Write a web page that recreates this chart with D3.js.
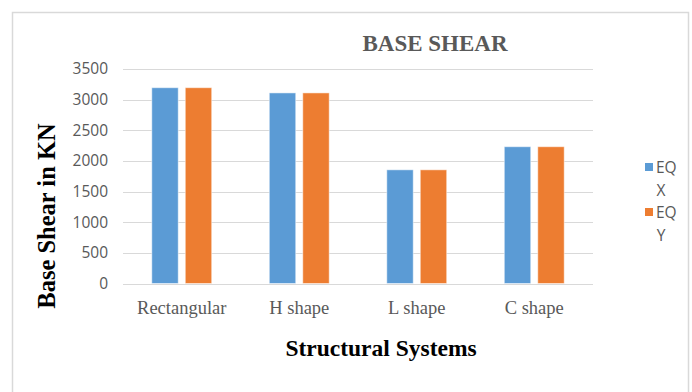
<!DOCTYPE html>
<html>
<head>
<meta charset="utf-8">
<script src="https://cdn.jsdelivr.net/npm/d3@7"></script>
<style>
  body { margin: 0; background: #fff; }
</style>
</head>
<body>
<div id="container"></div>
<script>
/* DATA */
const categories = ["Rectangular", "H shape", "L shape", "C shape"]
const series = ["EQ X", "EQ Y"]
const eqX = [3195, 3110, 1855, 2232]
const eqY = [3195, 3110, 1855, 2232]
const yTicks = [0, 500, 1000, 1500, 2000, 2500, 3000, 3500]
const colors = ["#5B9BD5", "#ED7D31"]

/* CONSTANTS */
const width = 692, height = 392
const margin = { top: 69, bottom: 107, left: 123, right: 99 }

const svg = d3.select("#container")
  .append("svg")
  .attr("width", width)
  .attr("height", height)

// chart frame
svg.append("rect")
  .attr("x", 12.5).attr("y", 12.5)
  .attr("width", 676).attr("height", 400)
  .attr("fill", "none")
  .attr("stroke", "#d9d9d9")
  .attr("stroke-width", 1.5)

// SCALES
const xScale = d3.scaleBand()
  .domain(categories)
  .range([margin.left, width - margin.right])
  .paddingInner(0.49)
  .paddingOuter(0.245)

const xInner = d3.scaleBand()
  .domain(series)
  .range([0, xScale.bandwidth()])
  .paddingInner(0.21)

const yScale = d3.scaleLinear()
  .domain([0, 3500])
  .range([height - margin.bottom - 1.5, margin.top])

// GRIDLINES
svg.append("g")
  .selectAll("line")
  .data(yTicks)
  .join("line")
  .attr("x1", margin.left)
  .attr("x2", width - margin.right)
  .attr("y1", d => Math.round(yScale(d)) + 0.5)
  .attr("y2", d => Math.round(yScale(d)) + 0.5)
  .attr("stroke", "#d9d9d9")
  .attr("stroke-width", 1.2)

// Y AXIS LABELS
const yAxis = d3.axisLeft(yScale).tickValues(yTicks).tickFormat(d3.format("d")).tickSize(0).tickPadding(15)
const yAxisGroup = svg.append("g")
  .attr("transform", `translate(${margin.left}, 0)`)
  .call(yAxis)
yAxisGroup.select(".domain").remove()
yAxisGroup.selectAll("text")
  .attr("fill", "#595959")
  .style("font-family", "'Open Sans', sans-serif")
  .style("font-size", "15.5px")

// BARS
const rows = categories.map((c, i) => ({ cat: c, values: [eqX[i], eqY[i]] }))
svg.append("g")
  .selectAll("g")
  .data(rows)
  .join("g")
  .attr("transform", d => `translate(${xScale(d.cat)}, 0)`)
  .selectAll("rect")
  .data(d => d.values.map((v, j) => ({ s: series[j], v: v, j: j })))
  .join("rect")
  .attr("x", d => xInner(d.s))
  .attr("width", xInner.bandwidth())
  .attr("y", d => yScale(d.v))
  .attr("height", d => yScale(0) - yScale(d.v))
  .attr("fill", d => colors[d.j])
  .attr("stroke", "#ffffff")
  .attr("stroke-opacity", 0.5)
  .attr("stroke-width", 1)

// X AXIS LABELS
const xAxis = d3.axisBottom(xScale).tickSize(0).tickPadding(17)
const xAxisGroup = svg.append("g")
  .attr("transform", `translate(0, ${yScale(0)})`)
  .call(xAxis)
xAxisGroup.select(".domain").remove()
xAxisGroup.selectAll("text")
  .attr("fill", "#595959")
  .style("font-family", "'Liberation Serif', 'Times New Roman', serif")
  .style("font-size", "18.5px")

// TITLE
svg.append("text")
  .attr("text-anchor", "middle")
  .attr("x", 435)
  .attr("y", 51)
  .attr("fill", "#595959")
  .style("font-family", "'Liberation Serif', 'Times New Roman', serif")
  .style("font-weight", "bold")
  .style("font-size", "23px")
  .text("BASE SHEAR")

// AXES TITLES
svg.append("text")
  .attr("text-anchor", "middle")
  .attr("x", 381)
  .attr("y", 356)
  .attr("fill", "#000")
  .style("font-family", "'Liberation Serif', 'Times New Roman', serif")
  .style("font-weight", "bold")
  .style("font-size", "23.5px")
  .text("Structural Systems")

svg.append("text")
  .attr("text-anchor", "middle")
  .attr("transform", "translate(55, 216) rotate(-90)")
  .attr("fill", "#000")
  .style("font-family", "'Liberation Serif', 'Times New Roman', serif")
  .style("font-weight", "bold")
  .style("font-size", "24.5px")
  .text("Base Shear in KN")

// LEGEND
const legend = svg.append("g")
  .selectAll("g")
  .data(series)
  .join("g")
  .attr("transform", (d, i) => `translate(645, ${163 + i * 45})`)

legend.append("rect")
  .attr("width", 8).attr("height", 8)
  .attr("fill", (d, i) => colors[i])

legend.append("text")
  .attr("x", 11)
  .attr("y", 10)
  .attr("fill", "#595959")
  .style("font-family", "'Open Sans', sans-serif")
  .style("font-size", "15.5px")
  .text(d => d.split(" ")[0])

legend.append("text")
  .attr("x", 16)
  .attr("y", 33)
  .attr("text-anchor", "middle")
  .attr("fill", "#595959")
  .style("font-family", "'Open Sans', sans-serif")
  .style("font-size", "15.5px")
  .text(d => d.split(" ")[1])
</script>
</body>
</html>
